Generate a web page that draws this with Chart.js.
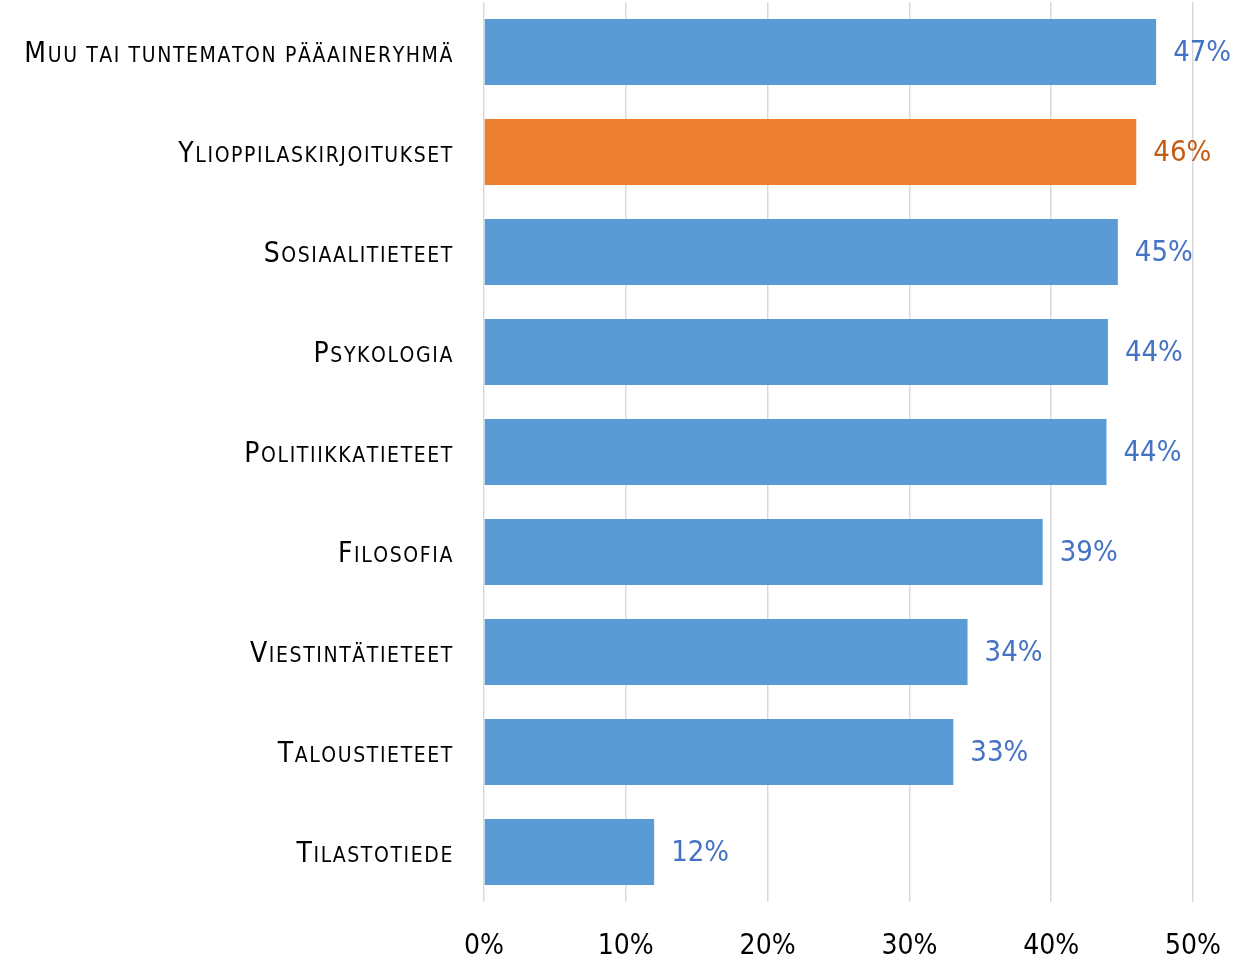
<!DOCTYPE html>
<html>
<head>
<meta charset="utf-8">
<script src="https://cdn.jsdelivr.net/npm/chart.js@4/dist/chart.umd.min.js"></script>
<style>
    html, body { margin: 0; padding: 0; background: #fff; }
    #wrap { width: 1255px; height: 957px; }
</style>
</head>
<body>
<div id="wrap"><canvas id="chart"></canvas></div>
<script>
// Pääaineryhmät ja osuudet (%)
const categories = [
    "Muu tai tuntematon pääaineryhmä",
    "Ylioppilaskirjoitukset",
    "Sosiaalitieteet",
    "Psykologia",
    "Politiikkatieteet",
    "Filosofia",
    "Viestintätieteet",
    "Taloustieteet",
    "Tilastotiede"
];
const values = [47.4, 46.0, 44.7, 44.0, 43.9, 39.4, 34.1, 33.1, 12.0];
const xTicks = [0, 10, 20, 30, 40, 50];
const highlight = "Ylioppilaskirjoitukset";

const FONT = "'Liberation Sans Narrow', 'DejaVu Sans Condensed', 'Open Sans', sans-serif";
const BLUE = "#5B9BD5", ORANGE = "#ED7D31";
const BLUE_TXT = "#4472C4", ORANGE_TXT = "#C55A11";

// Kapiteelit: isot kirjaimet isolla, pienet kirjaimet pienempinä versaaleina
function drawSmallCaps(ctx, text, xRight, y, big, small) {
    let parts = [];
    for (let ch of text) {
        let isUpper = ch !== ch.toLowerCase();
        parts.push({ t: ch.toUpperCase(), size: isUpper ? big : small });
    }
    ctx.letterSpacing = "1.6px";
    let total = 0;
    parts.forEach(p => {
        ctx.font = `${p.size}px ${FONT}`;
        p.w = ctx.measureText(p.t).width;
        total += p.w;
    });
    let x = xRight - total;
    ctx.textAlign = "left";
    ctx.textBaseline = "alphabetic";
    parts.forEach(p => {
        ctx.font = `${p.size}px ${FONT}`;
        ctx.fillText(p.t, x, y);
        x += p.w;
    });
    ctx.letterSpacing = "0px";
}

const labelsPlugin = {
    id: "labelsPlugin",
    afterDraw(chart) {
        const ctx = chart.ctx;
        const yScale = chart.scales.y;
        ctx.save();
        ctx.fillStyle = "#000";
        categories.forEach((c, i) => {
            let y = yScale.getPixelForValue(i);
            drawSmallCaps(ctx, c, 454, y + 10, 28, 21);
        });
        // arvot palkkien perään
        const meta = chart.getDatasetMeta(0);
        ctx.font = `29px ${FONT}`;
        ctx.textAlign = "left";
        ctx.textBaseline = "middle";
        meta.data.forEach((bar, i) => {
            ctx.fillStyle = categories[i] === highlight ? ORANGE_TXT : BLUE_TXT;
            ctx.fillText(Math.round(values[i]) + "%", bar.x + 17, bar.y + 1);
        });
        ctx.restore();
    }
};

new Chart(document.getElementById("chart"), {
    type: "bar",
    data: {
        labels: categories,
        datasets: [{
            data: values,
            backgroundColor: categories.map(c => c === highlight ? ORANGE : BLUE),
            barPercentage: 0.66,
            categoryPercentage: 1.0
        }]
    },
    options: {
        indexAxis: "y",
        responsive: true,
        maintainAspectRatio: false,
        animation: false,
        layout: { padding: { top: 2, right: 62, bottom: 0, left: 0 } },
        plugins: { legend: { display: false }, tooltip: { enabled: false } },
        scales: {
            x: {
                min: 0,
                max: 50,
                afterBuildTicks: scale => { scale.ticks = xTicks.map(v => ({ value: v })); },
                afterFit: scale => { scale.height = 55; },
                ticks: {
                    callback: v => v + "%",
                    color: "#000",
                    font: { family: FONT, size: 28 },
                    padding: 28,
                    maxRotation: 0
                },
                grid: { color: "#D9D9D9", lineWidth: 1.5, drawTicks: false },
                border: { display: false }
            },
            y: {
                ticks: { display: false },
                grid: { display: false },
                border: { display: false },
                afterFit: scale => { scale.width = 484; }
            }
        }
    },
    plugins: [labelsPlugin]
});
</script>
</body>
</html>
